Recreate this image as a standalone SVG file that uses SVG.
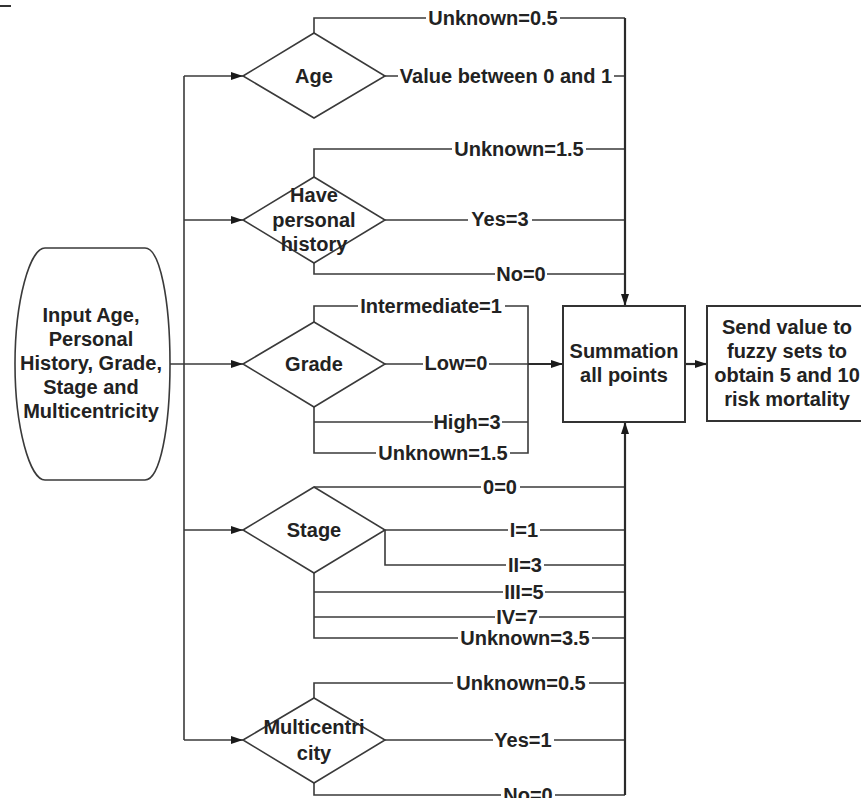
<svg xmlns="http://www.w3.org/2000/svg" width="861" height="798" viewBox="0 0 861 798">
<style>
.ln{fill:none;stroke:#3a3a3a;stroke-width:1.6}
.th{fill:none;stroke:#2a2a2a;stroke-width:2.2}
.nd{fill:#fff;stroke:#3a3a3a;stroke-width:1.6}
.bx{fill:#fff;stroke:#333;stroke-width:2}
.t{font-family:"Liberation Sans",Arial,sans-serif;font-weight:bold;font-size:20px;fill:#222;text-anchor:middle}
.bg{fill:#fff}
</style>
<defs>
<marker id="ah" viewBox="0 0 12 8" refX="12" refY="4" markerWidth="12" markerHeight="8" markerUnits="userSpaceOnUse" orient="auto">
<path d="M0,0 L12,4 L0,8 Z" fill="#1a1a1a"/>
</marker>
</defs>
<rect width="861" height="798" fill="#fff"/>
<line x1="0" y1="6" x2="11" y2="6" stroke="#333" stroke-width="2"/>

<g id="connectors">
<path class="ln" d="M184,76 V740"/>
<path class="ln" d="M184,76 H243" marker-end="url(#ah)"/>
<path class="ln" d="M184,220 H243" marker-end="url(#ah)"/>
<path class="ln" d="M169,364 H243" marker-end="url(#ah)"/>
<path class="ln" d="M184,530 H243" marker-end="url(#ah)"/>
<path class="ln" d="M184,740 H243" marker-end="url(#ah)"/>
<!-- Age -->
<path class="ln" d="M314,33 V18 H625"/>
<path class="ln" d="M385,76 H625"/>
<!-- Personal history -->
<path class="ln" d="M314,177 V149 H625"/>
<path class="ln" d="M385,220 H625"/>
<path class="ln" d="M314,263 V274 H625"/>
<!-- Grade -->
<path class="ln" d="M314,322 V306 H528 V453 H314 V407"/>
<path class="ln" d="M314,422 H528"/>
<path class="ln" d="M385,364 H528"/>
<path class="th" d="M528,364 H563" marker-end="url(#ah)"/>
<!-- Stage -->
<path class="ln" d="M314,487 H625"/>
<path class="ln" d="M385,530 H625"/>
<path class="ln" d="M385,530 V565 H625"/>
<path class="ln" d="M314,573 V638 H625"/>
<path class="ln" d="M314,592 H625"/>
<path class="ln" d="M314,617 H625"/>
<!-- Multicentricity -->
<path class="ln" d="M314,698 V683 H625"/>
<path class="ln" d="M385,740 H625"/>
<path class="ln" d="M314,783 V795 H625"/>
<!-- collectors -->
<path class="th" d="M625,18 V306" marker-end="url(#ah)"/>
<path class="th" d="M625,795 V422" marker-end="url(#ah)"/>
<path class="th" d="M685,364 H707" marker-end="url(#ah)"/>

<!-- labels -->
<rect class="bg" x="426" y="9" width="134" height="18"/><text class="t" x="493" y="25">Unknown=0.5</text>
<rect class="bg" x="398" y="67" width="216" height="18"/><text class="t" x="506" y="83">Value between 0 and 1</text>
<rect class="bg" x="452" y="140" width="134" height="18"/><text class="t" x="519" y="156">Unknown=1.5</text>
<rect class="bg" x="468" y="211" width="64" height="18"/><text class="t" x="500" y="226">Yes=3</text>
<rect class="bg" x="495" y="265" width="52" height="18"/><text class="t" x="521" y="281">No=0</text>
<rect class="bg" x="358" y="297" width="147" height="18"/><text class="t" x="431" y="313">Intermediate=1</text>
<rect class="bg" x="423" y="355" width="66" height="18"/><text class="t" x="456" y="370">Low=0</text>
<rect class="bg" x="433" y="413" width="69" height="18"/><text class="t" x="467" y="429">High=3</text>
<rect class="bg" x="376" y="444" width="134" height="18"/><text class="t" x="443" y="460">Unknown=1.5</text>
<rect class="bg" x="481" y="478" width="39" height="18"/><text class="t" x="500" y="494">0=0</text>
<rect class="bg" x="508" y="521" width="32" height="18"/><text class="t" x="524" y="537">I=1</text>
<rect class="bg" x="506" y="556" width="38" height="18"/><text class="t" x="525" y="572">II=3</text>
<rect class="bg" x="503" y="583" width="42" height="18"/><text class="t" x="524" y="599">III=5</text>
<rect class="bg" x="495" y="608" width="44" height="18"/><text class="t" x="517" y="624">IV=7</text>
<rect class="bg" x="458" y="629" width="134" height="18"/><text class="t" x="525" y="645">Unknown=3.5</text>
<rect class="bg" x="453" y="674" width="136" height="18"/><text class="t" x="521" y="690">Unknown=0.5</text>
<rect class="bg" x="493" y="731" width="61" height="18"/><text class="t" x="523" y="747">Yes=1</text>
<rect class="bg" x="501" y="786" width="54" height="18"/><text class="t" x="528" y="802">No=0</text>
</g>

<g id="input">
<path class="nd" d="M45,248 H145 C160,248 170,300 170,364 C170,428 160,480 145,480 H45 C30,480 15,428 15,364 C15,300 30,248 45,248 Z"/>
<text class="t" x="91" y="322">Input Age,</text>
<text class="t" x="91" y="346">Personal</text>
<text class="t" x="91" y="370">History, Grade,</text>
<text class="t" x="91" y="394">Stage and</text>
<text class="t" x="91" y="418">Multicentricity</text>
</g>

<g id="age">
<polygon class="nd" points="243,76 314,33 385,76 314,118"/>
<text class="t" x="314" y="83">Age</text>
</g>

<g id="history">
<polygon class="nd" points="243,220 314,177 385,220 314,263"/>
<text class="t" x="314" y="202">Have</text>
<text class="t" x="314" y="227">personal</text>
<text class="t" x="314" y="251">history</text>
</g>

<g id="grade">
<polygon class="nd" points="243,364 314,322 385,364 314,407"/>
<text class="t" x="314" y="371">Grade</text>
</g>

<g id="stage">
<polygon class="nd" points="243,530 314,487 385,530 314,573"/>
<text class="t" x="314" y="537">Stage</text>
</g>

<g id="multicentricity">
<polygon class="nd" points="243,740 314,698 385,740 314,783"/>
<text class="t" x="314" y="734">Multicentri</text>
<text class="t" x="314" y="760">city</text>
</g>

<g id="summation">
<rect class="bx" x="563" y="306" width="122" height="116"/>
<text class="t" x="624" y="358">Summation</text>
<text class="t" x="624" y="382">all points</text>
</g>

<g id="fuzzy">
<rect class="bx" x="707" y="306" width="160" height="115"/>
<text class="t" x="787" y="334">Send value to</text>
<text class="t" x="787" y="358">fuzzy sets to</text>
<text class="t" x="787" y="382">obtain 5 and 10</text>
<text class="t" x="787" y="406">risk mortality</text>
</g>
</svg>
